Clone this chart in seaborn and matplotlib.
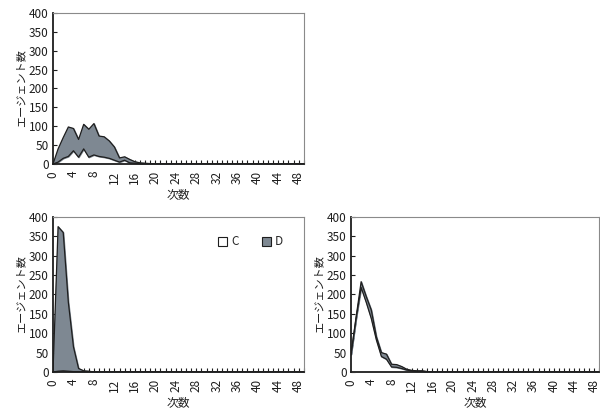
import matplotlib
matplotlib.use("Agg")
import matplotlib.pyplot as plt
import seaborn as sns
import numpy as np
import pandas as pd
from matplotlib.patches import Patch

sns.set_style("white")
plt.rcParams['font.family'] = ['Noto Sans CJK JP', 'DejaVu Sans']

# データ（0〜49回）
rounds = list(range(50))

# 左上パネル
c_top_left = [0, 5, 15, 20, 35, 18, 40, 18, 24, 20,
              18, 15, 10, 5, 10, 3, 2, 1, 0, 0] + [0] * 30
d_top_left = [0, 35, 55, 78, 59, 47, 65, 74, 83, 54,
              54, 46, 35, 11, 9, 9, 4, 2, 2, 1] + [0] * 30

# 左下パネル
c_bottom_left = [0, 2, 3, 2, 1, 1, 1, 1, 0, 0] + [0] * 40
d_bottom_left = [0, 373, 357, 178, 64, 8, 2, 1, 0, 0] + [0] * 40

# 右下パネル
c_bottom_right = [45, 138, 218, 180, 138, 83, 40, 33, 13, 12,
                  9, 5, 3, 2, 2, 1, 0, 0, 0, 0] + [0] * 30
d_bottom_right = [0, 3, 15, 15, 22, 8, 10, 13, 7, 7,
                  5, 2, 1, 1, 1, 0, 0, 0, 0, 0] + [0] * 30

series_names = ['C', 'D']
gray = '#7e8892'
ink = '#1e1e1e'

fig = plt.figure(figsize=(6, 4.16), dpi=100)
ax_tl = fig.add_axes([0.0883, 0.6058, 0.418, 0.363])
ax_bl = fig.add_axes([0.0883, 0.1058, 0.418, 0.3726])
ax_br = fig.add_axes([0.585, 0.1058, 0.414, 0.3726])


def draw_panel(ax, c_vals, d_vals):
    df = pd.DataFrame({'round': rounds, 'C': c_vals, 'D': d_vals})
    df['total'] = df['C'] + df['D']
    ax.fill_between(df['round'], 0, df['C'], color='white', zorder=1)
    ax.fill_between(df['round'], df['C'], df['total'], color=gray, zorder=1)
    sns.lineplot(data=df, x='round', y='C', color=ink, lw=0.9, ax=ax, zorder=2)
    sns.lineplot(data=df, x='round', y='total', color=ink, lw=0.9, ax=ax, zorder=2)
    ax.set_xlim(0, 49)
    ax.set_ylim(0, 400)
    ax.set_xticks(range(0, 49, 4))
    ax.set_xticks(range(0, 50), minor=True)
    ax.set_yticks(range(0, 401, 50))
    ax.tick_params(axis='x', which='both', direction='in', length=3, width=0.8,
                   bottom=True, rotation=90, labelsize=8.5, pad=5, color=ink,
                   labelcolor=ink)
    ax.tick_params(axis='y', direction='in', length=3, width=0.8, left=True,
                   labelsize=8.5, pad=3, color=ink, labelcolor=ink)
    ax.set_xlabel('次数', fontsize=8.5, labelpad=3, color=ink)
    ax.set_ylabel('エージェント数', fontsize=8, labelpad=2, color=ink)
    for side in ['left', 'bottom']:
        ax.spines[side].set_color(ink)
        ax.spines[side].set_linewidth(1.3)
    for side in ['top', 'right']:
        ax.spines[side].set_color('#8a8a8a')
        ax.spines[side].set_linewidth(0.8)


draw_panel(ax_tl, c_top_left, d_top_left)
draw_panel(ax_bl, c_bottom_left, d_bottom_left)
draw_panel(ax_br, c_bottom_right, d_bottom_right)

# 凡例
handles = [Patch(facecolor='white', edgecolor=ink, lw=0.8),
           Patch(facecolor=gray, edgecolor=ink, lw=0.8)]
ax_bl.legend(handles, series_names, loc='upper right', ncol=2, frameon=False,
             fontsize=8.5, handlelength=0.8, handleheight=0.8, handletextpad=0.3,
             columnspacing=2.0, bbox_to_anchor=(0.96, 0.95))

fig.savefig('out.png', dpi=100)
